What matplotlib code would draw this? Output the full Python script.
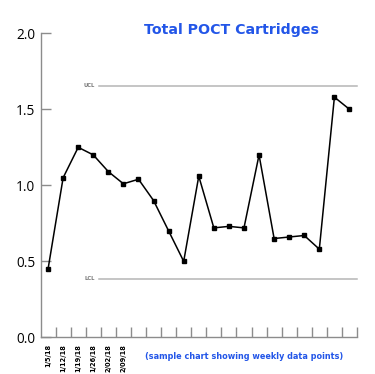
import numpy as np
import matplotlib.pyplot as plt

# weekly data points
values = [0.45, 1.05, 1.25, 1.20, 1.09, 1.01, 1.04, 0.90, 0.70, 0.50, 1.06,
          0.72, 0.73, 0.72, 1.20, 0.65, 0.66, 0.67, 0.58, 1.58, 1.50]
date_labels = ["1/5/18", "1/12/18", "1/19/18", "1/26/18", "2/02/18", "2/09/18"]
ucl = 1.655
lcl = 0.385
y_ticks = [0.0, 0.5, 1.0, 1.5, 2.0]

blue = "#2356e8"
gray = "#8c8c8c"

fig = plt.figure(figsize=(3.75, 3.74), dpi=100)
ax = fig.add_axes([0.1093, 0.098, 0.8427, 0.813])

x = np.arange(len(values))
ax.plot(x, values, "-", color="black", linewidth=1.1, marker="s",
        markersize=3.2, zorder=3)

ax.plot([3.4, 20.5], [ucl, ucl], color="#b5b5b5", linewidth=1.1, clip_on=False)
ax.plot([3.4, 20.5], [lcl, lcl], color="#b5b5b5", linewidth=1.1, clip_on=False)
ax.text(3.1, ucl, "UCL", fontsize=3.8, fontweight="bold", color="#777777",
        ha="right", va="center")
ax.text(3.1, lcl, "LCL", fontsize=3.8, fontweight="bold", color="#777777",
        ha="right", va="center")

ax.set_xlim(-0.47, 20.5)
ax.set_ylim(0, 2.0)

for s in ["top", "right"]:
    ax.spines[s].set_visible(False)
for s in ["left", "bottom"]:
    ax.spines[s].set_color(gray)
    ax.spines[s].set_linewidth(1.0)

ax.set_yticks(y_ticks)
ax.set_yticklabels([f"{v:.1f}" for v in y_ticks], fontsize=9.8,
                   family="Open Sans")
ax.tick_params(axis="y", direction="in", length=7, width=1.0, color=gray, pad=4)

# minor ticks between weeks, labels under the first few weeks
ax.set_xticks(np.arange(0.5, 21, 1.0), minor=True)
ax.set_xticks(np.arange(len(date_labels)))
ax.set_xticklabels(date_labels, rotation=90, fontsize=4.8, fontweight="bold")
ax.tick_params(axis="x", which="major", length=0, pad=5)
ax.tick_params(axis="x", which="minor", direction="in", length=7, width=1.0,
               color=gray)

fig.text(0.618, 0.92, "Total POCT Cartridges", fontsize=10.2, fontweight="bold",
         color=blue, ha="center", va="center")
fig.text(0.65, 0.048, "(sample chart showing weekly data points)", fontsize=5.9,
         fontweight="bold", color=blue, ha="center", va="center")

fig.savefig("out.png", dpi=100)
